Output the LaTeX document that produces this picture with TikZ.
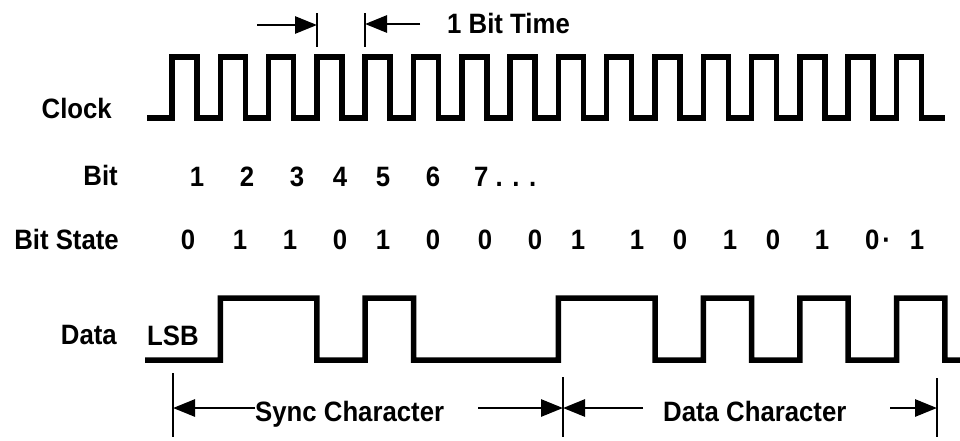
\documentclass[tikz,border=0pt]{standalone}
\usepackage{fontspec}
\setmainfont{Liberation Sans}[FakeStretch=0.92]
\usetikzlibrary{arrows.meta}
\tikzset{
  wave/.style={line width=5.5pt, line join=miter},
  tickbar/.style={line width=2.5pt},
  dimarrow/.style={line width=2.8pt, -{Triangle[length=22pt,width=17pt]}},
  lbl/.style={font=\fontsize{28}{32}\selectfont\bfseries, inner sep=0pt},
}
\begin{document}
\begin{tikzpicture}[x=1pt, y=-1pt]
    \useasboundingbox (0,0) rectangle (960,440);

    % row names
    \node[lbl, anchor=base east] (clk) at (112,118) {Clock};
    \node[lbl, anchor=base east] (bit) at (118,185) {Bit};
    \node[lbl, anchor=base east] (state) at (119,249) {Bit State};
    \node[lbl, anchor=base east] (data) at (117,344) {Data};
    \node[lbl, anchor=base west] (lsb) at (147,345) {LSB};

    % clock, one pulse per bit
    \draw[wave] (147,118) \foreach \k in {0,...,15} {
        -- ({172+48.3*\k},118) -- ({172+48.3*\k},57)
        -- ({197+48.3*\k},57) -- ({197+48.3*\k},118)} -- (945,118);

    % 1 bit time
    \coordinate (t1) at (317,25);
    \coordinate (t2) at (365,24);
    \draw[tickbar] (t1) ++(0,-12) -- ++(0,34);
    \draw[tickbar] (t2) ++(0,-11) -- ++(0,34);
    \node[lbl, anchor=base west] (bittime) at (447,33) {1 Bit Time};
    \coordinate (t0) at (257,25);
    \coordinate (t3) at (420,24);
    \draw[dimarrow] (t0) -- (t1);
    \draw[dimarrow] (t3) -- (t2);

    % bit numbers
    \foreach \x/\n in {197/1,247/2,297/3,340/4,383/5,433/6}
        \node[lbl, anchor=base] (b\n) at (\x,186) {\n};
    \node[lbl, anchor=base west] (b7) at (474,186) {7 . . .};

    % bit states
    \foreach \x/\v [count=\i] in {188/0,240/1,290/1,340/0,383/1,433/0,485/0,535/0,
        578/1,637/1,680/0,730/1,773/0,822/1,878/{0\kern3pt·},917/1}
        \node[lbl, anchor=base] (s\i) at (\x,249) {\v};

    % data line: sync 01101000, data 11010101
    \draw[wave] (145,360) -- (172,360)
        \foreach \b [count=\i from 0] in {0,1,1,0,1,0,0,0,1,1,0,1,0,1,0,1} {
        -- ({172+48.3*\i},{360-62*\b}) -- ({172+48.3*(\i+1)},{360-62*\b})}
        -- (944.8,360) -- (960,360);

    % character spans
    \coordinate (sL) at (173,408);
    \coordinate (mid) at (563,408);
    \coordinate (dR) at (937,408);
    \draw[tickbar] (sL) ++(0,-35) -- ++(0,64);
    \draw[tickbar] (mid) ++(0,-31) -- ++(0,60);
    \draw[tickbar] (dR) ++(0,-30) -- ++(0,59);
    \node[lbl, anchor=base west] (sync) at (255,421) {Sync Character};
    \node[lbl, anchor=base west] (datachar) at (663,421) {Data Character};
    \coordinate (sR) at (478,408);
    \coordinate (dL) at (643,408);
    \coordinate (dE) at (890,408);
    \draw[dimarrow] (sync.west |- sL) -- (sL);
    \draw[dimarrow] (sR) -- (mid);
    \draw[dimarrow] (dL) -- (mid);
    \draw[dimarrow] (dE) -- (dR);
\end{tikzpicture}
\end{document}
